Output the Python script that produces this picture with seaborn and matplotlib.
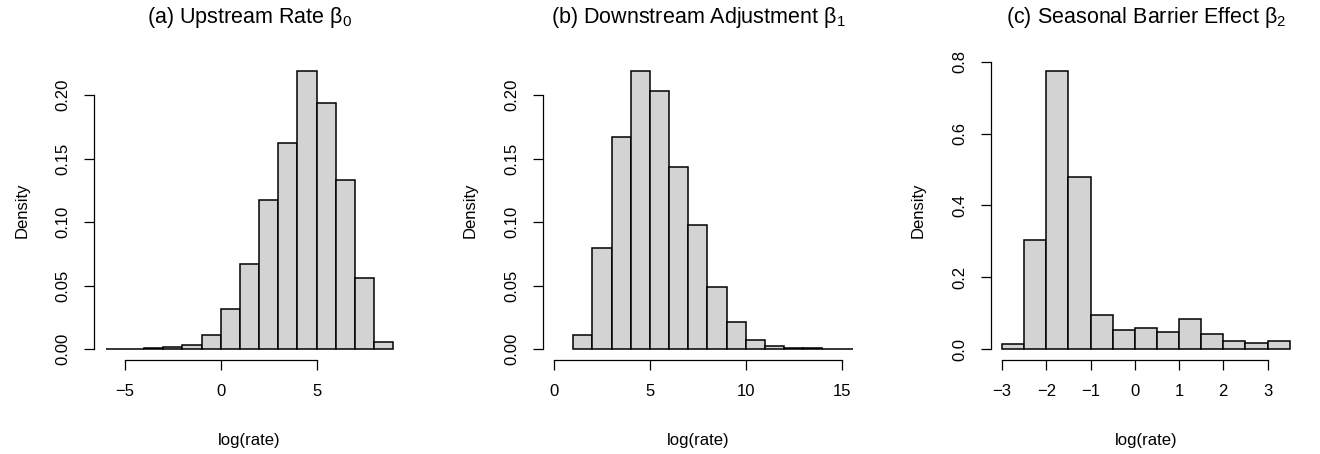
import numpy as np
import pandas as pd
import seaborn as sns
import matplotlib.pyplot as plt

sns.set_style("white")
plt.rcParams['font.family'] = ['Liberation Sans', 'DejaVu Sans']
plt.rcParams['mathtext.fontset'] = 'custom'
plt.rcParams['mathtext.rm'] = 'Liberation Sans'
plt.rcParams['mathtext.it'] = 'Liberation Sans'
plt.rcParams['text.color'] = 'black'
plt.rcParams['axes.labelcolor'] = 'black'
plt.rcParams['xtick.color'] = 'black'
plt.rcParams['ytick.color'] = 'black'

# histogram bin edges and densities
edges_a = list(np.arange(-6, 10, 1.0))
dens_a = [0.0, 0.0, 0.0005, 0.0016, 0.0034, 0.0108, 0.0318, 0.0669,
          0.117, 0.162, 0.2186, 0.1937, 0.133, 0.0559, 0.0058]

edges_b = list(np.arange(1, 17, 1.0))
dens_b = [0.011, 0.0793, 0.167, 0.2186, 0.2034, 0.1433, 0.0979, 0.0488,
          0.0213, 0.0071, 0.0024, 0.001, 0.0005, 0.0003, 0.0002]

edges_c = list(np.arange(-3, 3.75, 0.5))
dens_c = [0.0148, 0.3035, 0.773, 0.479, 0.0937, 0.052, 0.0575, 0.0473,
          0.0845, 0.0408, 0.0213, 0.0176, 0.0213]

titles = [r"(a) Upstream Rate β$_0$",
          r"(b) Downstream Adjustment β$_1$",
          r"(c) Seasonal Barrier Effect β$_2$"]
xticks = [[-5, 0, 5], [0, 5, 10, 15], [-3, -2, -1, 0, 1, 2, 3]]
yticks = [[0, 0.05, 0.10, 0.15, 0.20], [0, 0.05, 0.10, 0.15, 0.20],
          [0, 0.2, 0.4, 0.6, 0.8]]
ylabs = [["0.00", "0.05", "0.10", "0.15", "0.20"],
         ["0.00", "0.05", "0.10", "0.15", "0.20"],
         ["0.0", "0.2", "0.4", "0.6", "0.8"]]
xlims = [(-6, 9), (0, 15), (-3, 3.5)]

fig = plt.figure(figsize=(13.2, 4.54), dpi=100)
lefts = [0.0714, 0.4111, 0.7505]

for i, (edges, dens) in enumerate([(edges_a, dens_a), (edges_b, dens_b), (edges_c, dens_c)]):
    ax = fig.add_axes([lefts[i], 0.2068, 0.2352, 0.6604])
    e = np.array(edges)
    df = pd.DataFrame({"x": (e[:-1] + e[1:]) / 2, "w": dens})
    sns.histplot(data=df, x="x", weights="w", bins=edges, stat="count",
                 color="#D3D3D3", edgecolor="black", linewidth=1.1, alpha=1,
                 ax=ax)
    lo, hi = xlims[i]
    pad = 0.04 * (hi - lo)
    ax.set_xlim(lo - pad, hi + pad)
    ymax = max(dens)
    ax.set_ylim(-0.04 * ymax, 1.04 * ymax)

    ax.set_xticks(xticks[i])
    ax.set_yticks(yticks[i])
    ax.set_yticklabels(ylabs[i], rotation=90, va="center")
    ax.spines["top"].set_visible(False)
    ax.spines["right"].set_visible(False)
    ax.spines["left"].set_bounds(yticks[i][0], yticks[i][-1])
    ax.spines["bottom"].set_bounds(xticks[i][0], xticks[i][-1])
    for s in ["left", "bottom"]:
        ax.spines[s].set_color("black")
        ax.spines[s].set_linewidth(0.9)
    ax.tick_params(axis="both", direction="out", length=7, width=0.9,
                   color="black", labelsize=12, pad=10, left=True, bottom=True)
    ax.set_xlabel("log(rate)", fontsize=12, labelpad=25)
    ax.set_ylabel("Density", fontsize=12, labelpad=19)
    ax.set_title(titles[i], fontsize=15.5, pad=27)

plt.savefig("out.png", dpi=100)
